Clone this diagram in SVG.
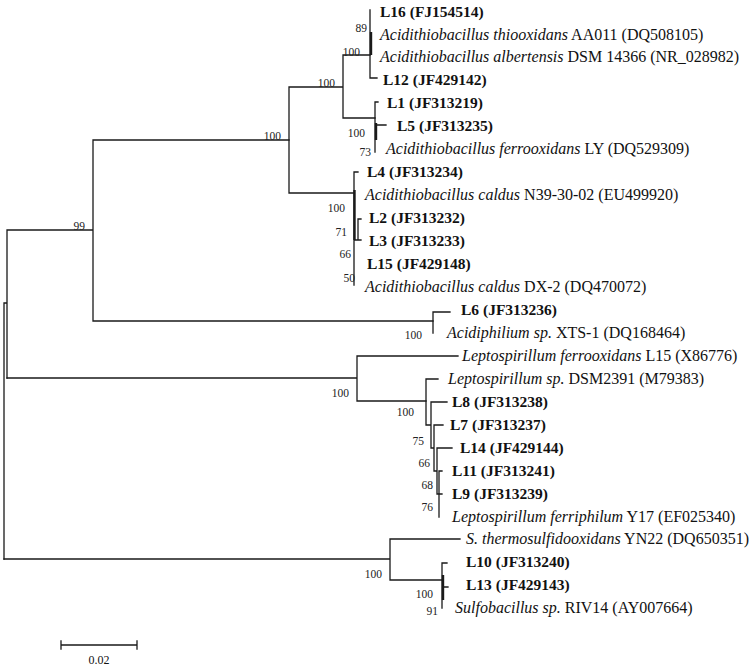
<svg xmlns="http://www.w3.org/2000/svg" width="750" height="669" viewBox="0 0 750 669">
<style>
.br{fill:none;stroke:#1a1a1a;stroke-width:1.3;stroke-linecap:square}
.th{fill:none;stroke:#1a1a1a;stroke-width:2.4}
.lf{font-family:"Liberation Serif","Times New Roman",serif;font-size:16px;fill:#111}
.b{font-weight:bold;font-size:15.5px}
.i{font-style:italic}
.bs{font-family:"Liberation Serif","Times New Roman",serif;font-size:11.5px;fill:#222;text-anchor:end}
</style>
<rect width="750" height="669" fill="#fff"/>
<g id="connectors">
<path class="br" d="M4 303V559M4 303H7M7 230V378M7 230H93M93 140V321M93 140H289M93 321H433"/>
<path class="br" d="M289 87V193M289 87H343M289 193H354M343 55V118M343 55H370M343 118H375"/>
<path class="br" d="M370 10V78M370 78H377"/>
<path class="th" d="M371 32V55"/>
<path class="br" d="M375 102V152M375 102H378M377 125H386"/>
<path class="th" d="M376 123V140"/>
<path class="br" d="M354 172V285M354 172H358M358 219V240M358 219H361M354 240H361"/>
<path class="th" d="M354.5 190V240"/>
<path class="br" d="M433 312V333M433 312H450"/>
<path class="br" d="M7 378H357M357 356V401M357 356H458M357 401H426"/>
<path class="br" d="M426 379V425M426 379H438M426 425H431M431 402V448M431 402H447M431 448H434M434 425V471M434 425H443M434 471H437M437 448V494M437 448H452M437 494H439M439 471V517M439 471H442M439 494H442"/>
<path class="br" d="M4 559H390M390 539V580M390 539H460M390 580H442M442 563V608M442 563H447M443 587H448"/>
<path class="th" d="M443 575V600"/>
</g>
<g id="bootstrap">
<text class="bs" x="85" y="230">99</text>
<text class="bs" x="281" y="140">100</text>
<text class="bs" x="335" y="87">100</text>
<text class="bs" x="360" y="56">100</text>
<text class="bs" x="367" y="32">89</text>
<text class="bs" x="365" y="137">100</text>
<text class="bs" x="371" y="156">73</text>
<text class="bs" x="345" y="212">100</text>
<text class="bs" x="347" y="236">71</text>
<text class="bs" x="351" y="258">66</text>
<text class="bs" x="355" y="282">50</text>
<text class="bs" x="422" y="339">100</text>
<text class="bs" x="349" y="397">100</text>
<text class="bs" x="414" y="416">100</text>
<text class="bs" x="424" y="445">75</text>
<text class="bs" x="430" y="467">66</text>
<text class="bs" x="433" y="489">68</text>
<text class="bs" x="433" y="511">76</text>
<text class="bs" x="382" y="578">100</text>
<text class="bs" x="433" y="598">100</text>
<text class="bs" x="438" y="615">91</text>
</g>
<g id="L16"><text class="lf b" x="380" y="17">L16 (FJ154514)</text></g>
<g id="AA011"><text class="lf" x="380" y="40"><tspan class="i">Acidithiobacillus thiooxidans</tspan> AA011 (DQ508105)</text></g>
<g id="DSM14366"><text class="lf" x="380" y="62"><tspan class="i">Acidithiobacillus albertensis</tspan> DSM 14366 (NR_028982)</text></g>
<g id="L12"><text class="lf b" x="383" y="85">L12 (JF429142)</text></g>
<g id="L1"><text class="lf b" x="387" y="108">L1 (JF313219)</text></g>
<g id="L5"><text class="lf b" x="397" y="131">L5 (JF313235)</text></g>
<g id="LY"><text class="lf" x="386" y="154"><tspan class="i">Acidithiobacillus ferrooxidans</tspan> LY (DQ529309)</text></g>
<g id="L4"><text class="lf b" x="367" y="177">L4 (JF313234)</text></g>
<g id="N39"><text class="lf" x="365" y="200"><tspan class="i">Acidithiobacillus caldus</tspan> N39-30-02 (EU499920)</text></g>
<g id="L2"><text class="lf b" x="369" y="223">L2 (JF313232)</text></g>
<g id="L3"><text class="lf b" x="369" y="246">L3 (JF313233)</text></g>
<g id="L15"><text class="lf b" x="367" y="269">L15 (JF429148)</text></g>
<g id="DX2"><text class="lf" x="365" y="292"><tspan class="i">Acidithiobacillus caldus</tspan> DX-2 (DQ470072)</text></g>
<g id="L6"><text class="lf b" x="461" y="315">L6 (JF313236)</text></g>
<g id="XTS1"><text class="lf" x="447" y="338"><tspan class="i">Acidiphilium sp.</tspan> XTS-1 (DQ168464)</text></g>
<g id="LfL15"><text class="lf" x="462" y="361"><tspan class="i">Leptospirillum ferrooxidans</tspan> L15 (X86776)</text></g>
<g id="DSM2391"><text class="lf" x="448" y="384"><tspan class="i">Leptospirillum sp.</tspan> DSM2391 (M79383)</text></g>
<g id="L8"><text class="lf b" x="452" y="407">L8 (JF313238)</text></g>
<g id="L7"><text class="lf b" x="450" y="430">L7 (JF313237)</text></g>
<g id="L14"><text class="lf b" x="460" y="453">L14 (JF429144)</text></g>
<g id="L11"><text class="lf b" x="452" y="476">L11 (JF313241)</text></g>
<g id="L9"><text class="lf b" x="452" y="499">L9 (JF313239)</text></g>
<g id="Y17"><text class="lf" x="452" y="522"><tspan class="i">Leptospirillum ferriphilum</tspan> Y17 (EF025340)</text></g>
<g id="YN22"><text class="lf" x="466" y="544"><tspan class="i">S. thermosulfidooxidans</tspan> YN22 (DQ650351)</text></g>
<g id="L10"><text class="lf b" x="466" y="567">L10 (JF313240)</text></g>
<g id="L13"><text class="lf b" x="466" y="590">L13 (JF429143)</text></g>
<g id="RIV14"><text class="lf" x="455" y="613"><tspan class="i">Sulfobacillus sp.</tspan> RIV14 (AY007664)</text></g>
<g id="scale">
<path class="br" d="M61 645H137M61 641V649M137 641V649"/>
<text class="lf" style="font-size:12px" x="99" y="664" text-anchor="middle">0.02</text>
</g>
</svg>
